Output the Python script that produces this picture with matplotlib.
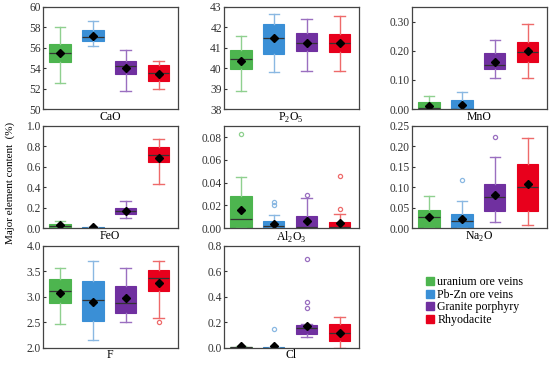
import numpy as np
import matplotlib.pyplot as plt
from matplotlib.lines import Line2D

plt.rcParams['font.family'] = ['Liberation Serif', 'DejaVu Serif']
plt.rcParams['mathtext.fontset'] = 'custom'
plt.rcParams['mathtext.rm'] = 'Liberation Serif'

groups = ['uranium ore veins', 'Pb-Zn ore veins', 'Granite porphyry', 'Rhyodacite']
colors = ['#4db54f', '#3a8fd6', '#7030a0', '#e8001c']
whisker_colors = ['#8fd08f', '#8ab8e2', '#9a6fc0', '#ee6a6a']

elements = ['CaO', 'P$_2$O$_5$', 'MnO', 'FeO', 'Al$_2$O$_3$', 'Na$_2$O', 'F', 'Cl']

# per group: [whislo, q1, med, q3, whishi, mean]
CaO = [[52.52, 54.66, 55.5, 56.36, 58.03, 55.54],
       [56.13, 56.66, 57.08, 57.77, 58.6, 57.2],
       [51.74, 53.44, 54.2, 54.75, 55.74, 54.03],
       [52.0, 52.79, 53.54, 54.3, 54.75, 53.48]]
P2O5 = [[38.9, 39.95, 40.44, 40.9, 41.56, 40.36],
        [39.8, 40.69, 41.5, 42.16, 42.66, 41.49],
        [39.85, 40.85, 41.26, 41.72, 42.41, 41.26],
        [39.88, 40.79, 41.26, 41.69, 42.54, 41.26]]
MnO = [[0.0, 0.0, 0.005, 0.023, 0.045, 0.01],
       [0.0, 0.0, 0.002, 0.03, 0.058, 0.013],
       [0.108, 0.137, 0.15, 0.193, 0.236, 0.16],
       [0.105, 0.161, 0.195, 0.23, 0.29, 0.198]]
FeO = [[0.0, 0.0, 0.016, 0.043, 0.066, 0.026],
       [0.0, 0.0, 0.003, 0.008, 0.01, 0.01],
       [0.098, 0.135, 0.17, 0.197, 0.27, 0.167],
       [0.43, 0.643, 0.711, 0.797, 0.869, 0.689]]
Al2O3 = [[0.0, 0.0, 0.0077, 0.0283, 0.0446, 0.0164],
         [0.0, 0.0, 0.0015, 0.0065, 0.0113, 0.0039],
         [0.0, 0.0, 0.001, 0.0107, 0.0262, 0.006],
         [0.0, 0.0, 0.001, 0.0054, 0.0128, 0.0048]]
Na2O = [[0.0, 0.0, 0.0279, 0.0443, 0.0779, 0.0262],
        [0.0, 0.0, 0.0164, 0.0344, 0.0664, 0.0221],
        [0.014, 0.041, 0.077, 0.108, 0.174, 0.0803],
        [0.0074, 0.0426, 0.1016, 0.1566, 0.2197, 0.107]]
F = [[2.47, 2.88, 3.11, 3.34, 3.56, 3.07],
     [2.15, 2.53, 2.93, 3.31, 3.69, 2.89],
     [2.51, 2.69, 2.88, 3.22, 3.56, 2.97],
     [2.58, 3.12, 3.36, 3.53, 3.69, 3.27]]
Cl = [[0.0, 0.0, 0.008, 0.008, 0.018, 0.016],
      [0.0, 0.0, 0.001, 0.003, 0.003, 0.013],
      [0.084, 0.11, 0.155, 0.176, 0.19, 0.174],
      [0.0, 0.053, 0.113, 0.187, 0.245, 0.116]]

# outliers per group
Al2O3_fliers = [[0.0833], [0.0232, 0.0202], [0.0294], [0.0455, 0.0167]]
Na2O_fliers = [[], [0.117], [0.222], []]
F_fliers = [[], [], [], [2.5]]
Cl_fliers = [[], [0.15], [0.697, 0.358, 0.313], []]

data = [CaO, P2O5, MnO, FeO, Al2O3, Na2O, F, Cl]
fliers = [None, None, None, None, Al2O3_fliers, Na2O_fliers, F_fliers, Cl_fliers]
ylims = [(50, 60), (38, 43), (0, 0.35), (0, 1.0), (0, 0.09), (0, 0.25), (2.0, 4.0), (0, 0.8)]
yticks = [np.arange(50, 61, 2), np.arange(38, 44, 1), [0, 0.1, 0.2, 0.3], np.arange(0, 1.01, 0.2),
          np.arange(0, 0.081, 0.02), np.arange(0, 0.251, 0.05), np.arange(2.0, 4.01, 0.5),
          np.arange(0, 0.81, 0.2)]
yfmt = ['%d', '%d', '%.2f', '%.1f', '%.2f', '%.2f', '%.1f', '%.1f']

fig = plt.figure(figsize=(5.5, 3.65), dpi=100)
col_x = [0.078, 0.407, 0.749]
row_y = [0.701, 0.375, 0.047]
w, h = 0.245, 0.28

for k, name in enumerate(elements):
    r, c = divmod(k, 3)
    ax = fig.add_axes([col_x[c], row_y[r], w, h])
    for i in range(4):
        lo, q1, med, q3, hi, mean = data[k][i]
        st = dict(whislo=lo, q1=q1, med=med, q3=q3, whishi=hi, mean=mean,
                  fliers=fliers[k][i] if fliers[k] else [])
        ax.bxp([st], positions=[i + 1], widths=0.65, patch_artist=True, showmeans=True,
               boxprops=dict(facecolor=colors[i], edgecolor=colors[i], linewidth=0.8),
               medianprops=dict(color='#333333', linewidth=0.9),
               whiskerprops=dict(color=whisker_colors[i], linewidth=1.0),
               capprops=dict(color=whisker_colors[i], linewidth=1.0),
               capwidths=0.32,
               meanprops=dict(marker='D', markerfacecolor='black', markeredgecolor='black', markersize=4.5),
               flierprops=dict(marker='o', markerfacecolor='none', markeredgecolor=whisker_colors[i],
                               markersize=3, markeredgewidth=0.9))
    ax.set_xlim(0.48, 4.58)
    ax.set_ylim(*ylims[k])
    ax.set_yticks(yticks[k])
    ax.set_yticklabels([yfmt[k] % v for v in yticks[k]])
    ax.set_xticks([])
    ax.set_xlabel(name, fontsize=8.5, labelpad=1)
    ax.tick_params(axis='y', direction='in', length=2.5, labelsize=8.3, pad=1.5, colors='#333333')
    for s in ax.spines.values():
        s.set_color('#444444')
        s.set_linewidth(0.9)

fig.text(0.018, 0.5, 'Major element content  (%)', rotation=90, va='center', ha='center', fontsize=8)

handles = [Line2D([], [], marker='s', linestyle='none', markersize=6, markerfacecolor=col,
                  markeredgecolor=col) for col in colors]
fig.legend(handles, groups, loc='center left', bbox_to_anchor=(0.765, 0.175), frameon=False,
           fontsize=8.6, handletextpad=0.2, labelspacing=0.05, handlelength=0.8, borderaxespad=0)

fig.savefig('out.png', dpi=100)
